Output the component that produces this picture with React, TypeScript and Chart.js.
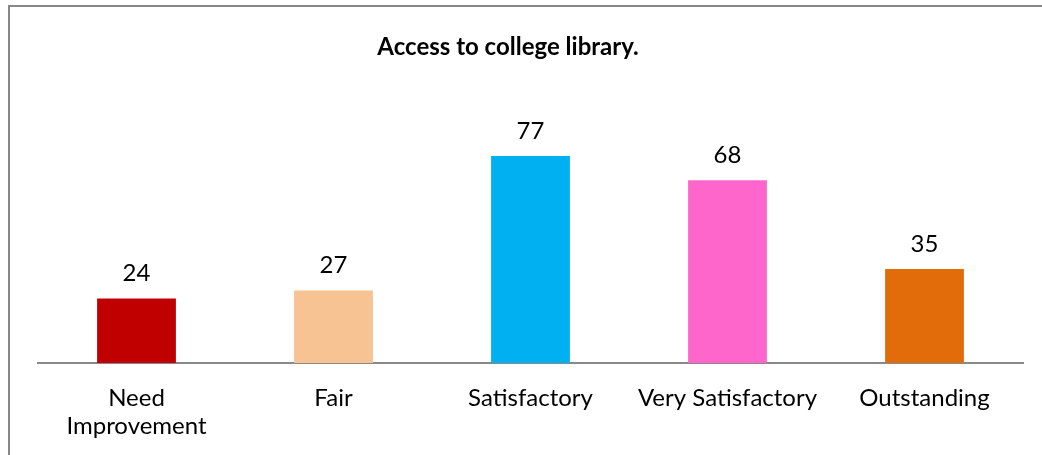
import React, { useEffect, useRef } from "react";
import { Chart, registerables } from "chart.js";

Chart.register(...registerables);

const TITLE = "Access to college library.";
const categories: (string | string[])[] = [
  ["Need", "Improvement"],
  "Fair",
  "Satisfactory",
  "Very Satisfactory",
  "Outstanding",
];
const values = [24, 27, 77, 68, 35];
const barColors = ["#C00000", "#F8C393", "#00B0F0", "#FF66CC", "#E36C0A"];

const FONT = "Lato";

const labelPlugin = {
  id: "valueAndTitle",
  afterDatasetsDraw(chart: any) {
    const ctx = chart.ctx;
    ctx.save();
    const meta = chart.getDatasetMeta(0);
    ctx.fillStyle = "#000000";
    ctx.font = `24px ${FONT}`;
    ctx.textAlign = "center";
    ctx.textBaseline = "alphabetic";
    meta.data.forEach((bar: any, i: number) => {
      ctx.fillText(String(values[i]), bar.x, bar.y - 17);
    });
    ctx.font = `bold 24px ${FONT}`;
    ctx.fillText(TITLE, 508, 55);
    ctx.restore();
  },
};

export default function App() {
  const ref = useRef<HTMLCanvasElement | null>(null);

  useEffect(() => {
    document.documentElement.style.overflow = "hidden";
    document.body.style.overflow = "hidden";
    if (!ref.current) return;
    const chart = new Chart(ref.current, {
      type: "bar",
      data: {
        labels: categories,
        datasets: [
          {
            data: values,
            backgroundColor: barColors,
            borderWidth: 0,
            categoryPercentage: 1,
            barPercentage: 0.4,
          },
        ],
      },
      options: {
        animation: false,
        responsive: false,
        devicePixelRatio: 1,
        layout: { padding: { left: 38, right: 19, top: 121, bottom: 0 } },
        plugins: {
          legend: { display: false },
          title: { display: false },
          tooltip: { enabled: false },
        },
        scales: {
          y: { display: false, min: 0, max: 90 },
          x: {
            afterFit: (scale: any) => {
              scale.height = 92;
            },
            grid: { display: false, drawTicks: false },
            border: { display: true, color: "#898989", width: 2 },
            ticks: {
              padding: 21,
              color: "#000000",
              font: { family: FONT, size: 24, lineHeight: 1.18 },
              maxRotation: 0,
              autoSkip: false,
            },
          },
        },
      },
      plugins: [labelPlugin],
    });
    return () => chart.destroy();
  }, []);

  return (
    <div
      style={{
        position: "fixed",
        left: 0,
        top: 0,
        width: 1042,
        height: 455,
        overflow: "hidden",
        background: "#ffffff",
      }}
    >
      <div
        style={{
          position: "absolute",
          left: 8,
          top: 5,
          width: 1200,
          height: 600,
          border: "2px solid #878787",
          boxSizing: "border-box",
        }}
      />
      <canvas
        ref={ref}
        width={1042}
        height={455}
        style={{ position: "absolute", left: 0, top: 0, width: 1042, height: 455 }}
      />
    </div>
  );
}
